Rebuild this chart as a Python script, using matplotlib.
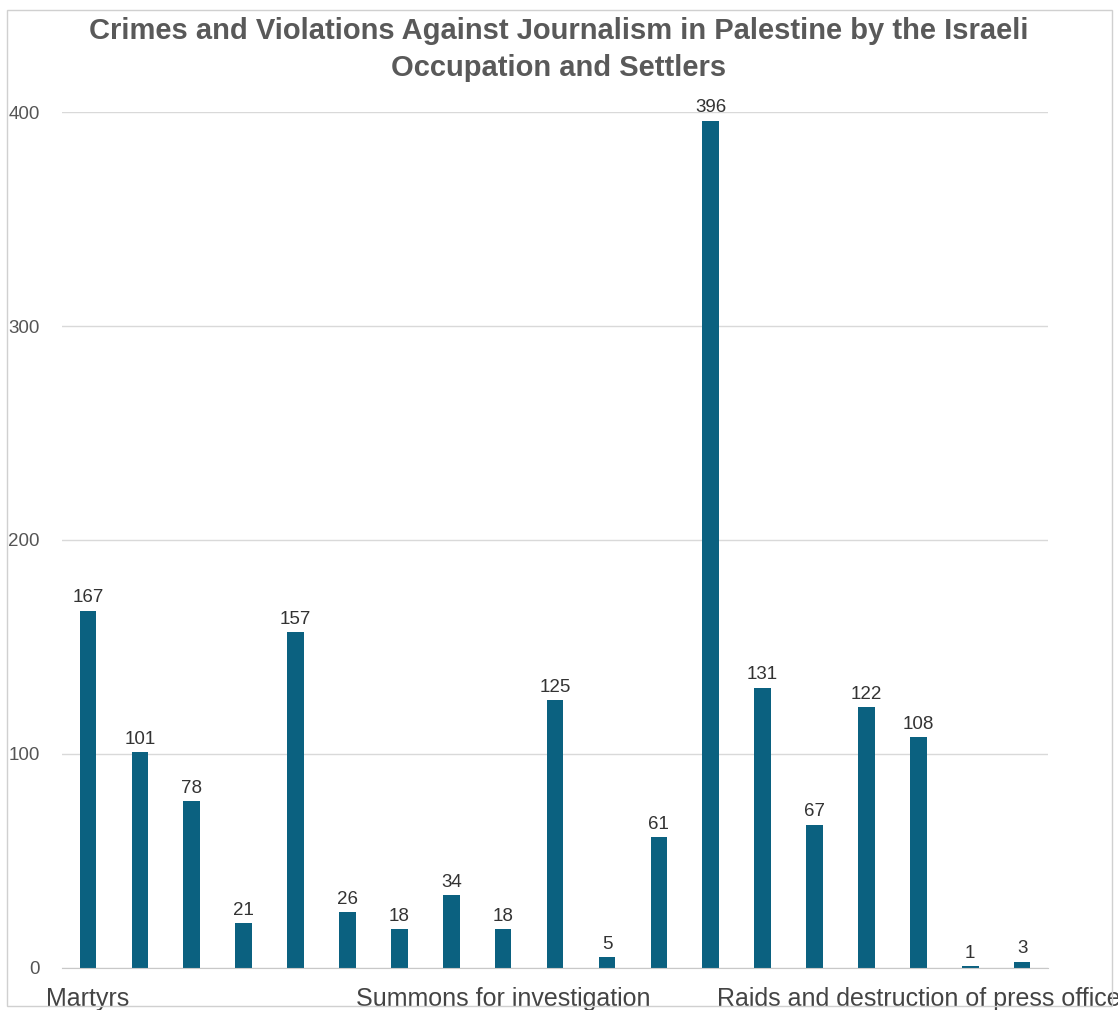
import matplotlib.pyplot as plt
from matplotlib.patches import Rectangle

plt.rcParams["font.family"] = ["Liberation Sans", "DejaVu Sans"]

# only every 8th category name is printed on the axis in the source chart
categories = [
    "Martyrs", "", "", "", "", "", "", "",
    "Summons for investigation", "", "", "", "", "", "", "",
    "Raids and destruction of press office", "", "",
]
values = [167, 101, 78, 21, 157, 26, 18, 34, 18, 125, 5, 61,
          396, 131, 67, 122, 108, 1, 3]
yticks = [0, 100, 200, 300, 400]

title = ("Crimes and Violations Against Journalism in Palestine by the Israeli\n"
         "Occupation and Settlers")

bar_color = "#0b6180"


def main():
    fig = plt.figure(figsize=(11.18, 10.10), dpi=100)
    ax = fig.add_axes([0.0555, 0.0416, 0.882, 0.8475])

    x = list(range(len(values)))
    bars = ax.bar(x, values, width=0.32, color=bar_color, zorder=3)
    ax.bar_label(bars, labels=[str(v) for v in values], padding=3,
                 fontsize=13.5, color="#333333", clip_on=False)

    ax.set_xlim(-0.5, len(values) - 0.5)
    ax.set_ylim(0, 400)
    ax.set_yticks(yticks)
    ax.set_yticklabels([str(t) for t in yticks], fontsize=13.5, color="#555555")
    ax.tick_params(axis="y", length=0, pad=16)

    ax.set_xticks(x)
    ax.set_xticklabels(categories, fontsize=18, color="#444444")
    ax.tick_params(axis="x", length=0, pad=14)

    ax.grid(axis="y", color="#d9d9d9", linewidth=1, zorder=0)
    for side in ["top", "right", "left"]:
        ax.spines[side].set_visible(False)
    ax.spines["bottom"].set_color("#c8c8c8")
    ax.spines["bottom"].set_zorder(4)

    fig.text(0.500, 0.951, title, ha="center", va="center", fontsize=21,
             fontweight="bold", color="#595959", linespacing=1.38)

    fig.patches.append(Rectangle((0.006, 0.004), 0.989, 0.986,
                                 transform=fig.transFigure, fill=False,
                                 edgecolor="#d0d0d0", linewidth=1))

    fig.savefig("out.png", dpi=100)


if __name__ == "__main__":
    main()
